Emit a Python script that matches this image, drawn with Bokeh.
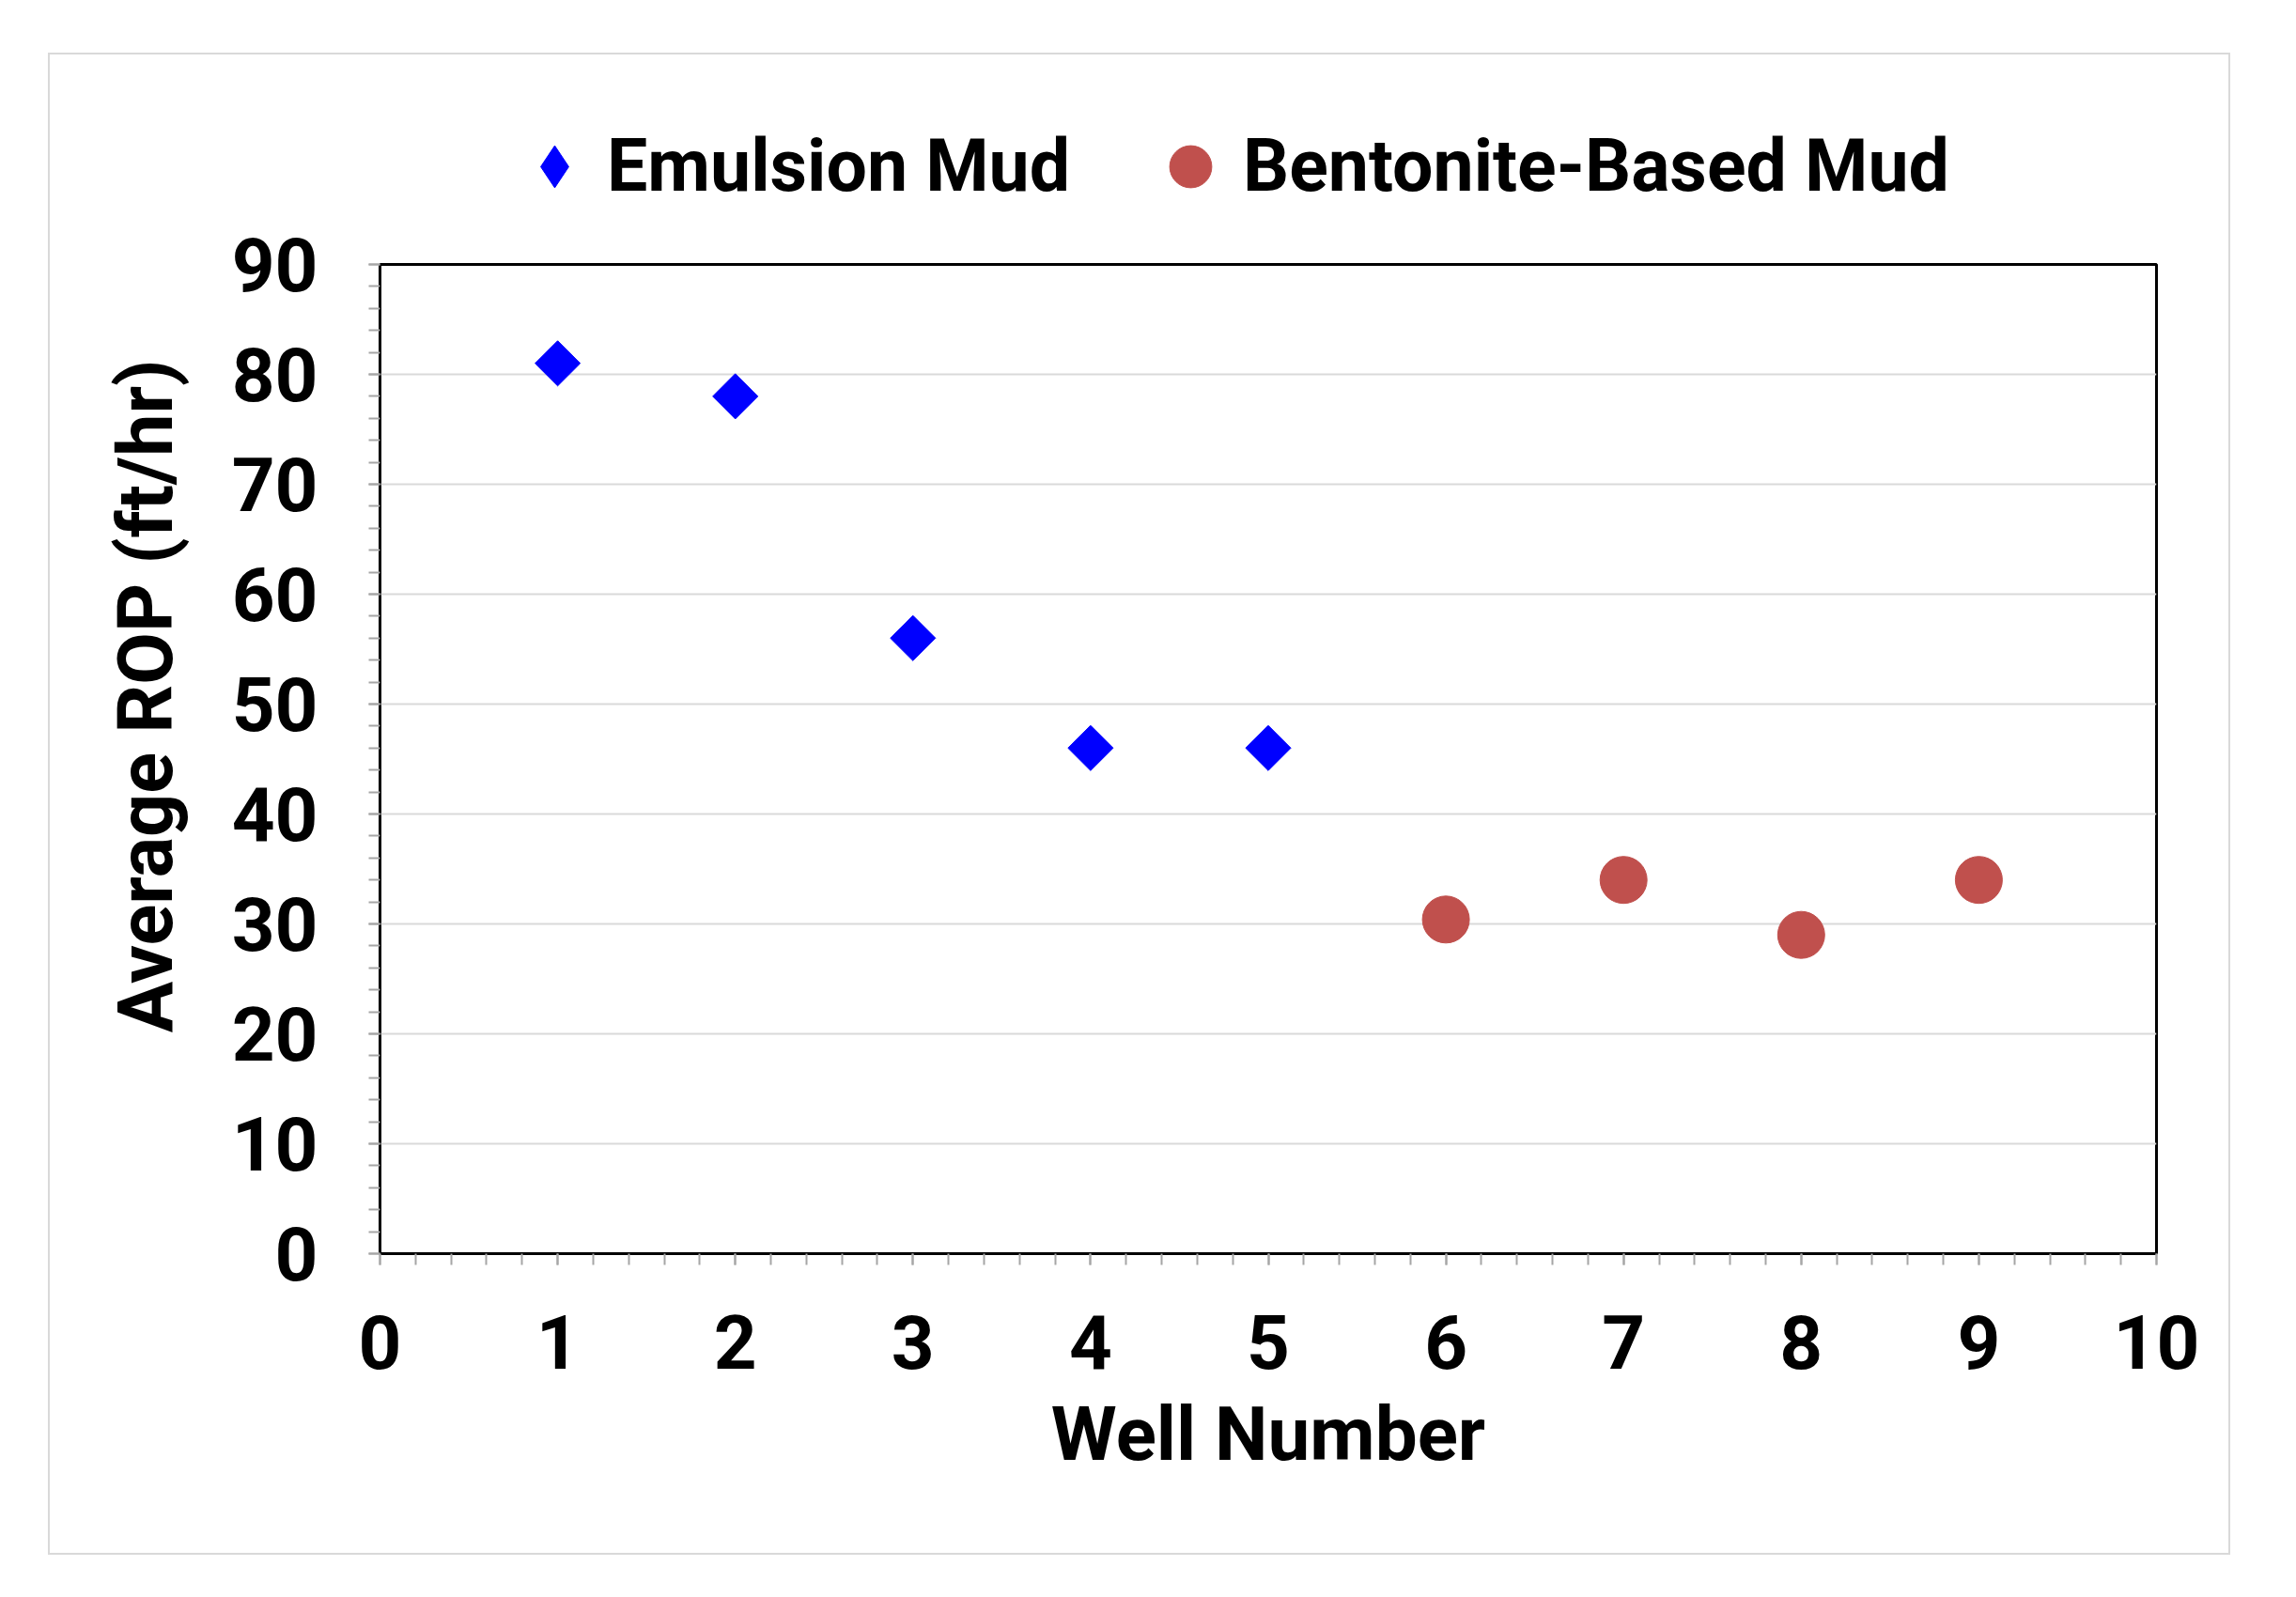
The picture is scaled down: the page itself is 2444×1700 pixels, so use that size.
import math
from bokeh.plotting import figure
from bokeh.layouts import column
from bokeh.models import (ColumnDataSource, Range1d, SingleIntervalTicker, Legend,
                          LegendItem, Title)
from bokeh.embed import file_html
from bokeh.resources import INLINE

# ---- data ----
emulsion_well = [1, 2, 3, 4, 5]
emulsion_rop = [81, 78, 56, 46, 46]
bentonite_well = [6, 7, 8, 9]
bentonite_rop = [30.4, 34, 29, 34]
series_names = ["Emulsion Mud", "Bentonite-Based Mud"]
x_title = "Well Number"
y_title = "Average ROP (ft/hr)"

FONT = "Roboto"
FS = "80px"
BLUE = "#0000FF"
RED = "#C0504D"
EDGE = "2px solid #d9d9d9"

src_e = ColumnDataSource(dict(x=emulsion_well, y=emulsion_rop))
src_b = ColumnDataSource(dict(x=bentonite_well, y=bentonite_rop))

# ---- legend strip (top of the chart) ----
lf = figure(width=2323, height=180, title=None,
            x_range=Range1d(-20, -10), y_range=Range1d(-20, -10),
            x_axis_location=None, y_axis_location=None,
            output_backend="svg", toolbar_location=None, min_border=0)
lf.grid.visible = False
lf.outline_line_color = None
lf.background_fill_color = "white"
lf.border_fill_color = "white"
lf.styles = {"border-top": EDGE, "border-left": EDGE, "border-right": EDGE}
lr_e = lf.scatter("x", "y", source=src_e, marker="diamond", size=44,
                  fill_color=BLUE, line_color=BLUE)
lr_b = lf.scatter("x", "y", source=src_b, marker="circle", size=50,
                  fill_color=RED, line_color=RED)
legend = Legend(items=[LegendItem(label=series_names[0], renderers=[lr_e]),
                       LegendItem(label=series_names[1], renderers=[lr_b])],
                orientation="horizontal", location=(130, 5),
                glyph_width=112, glyph_height=112, label_standoff=0, spacing=72,
                padding=0, margin=0, border_line_alpha=0, background_fill_alpha=0,
                label_text_font=FONT, label_text_font_size="77px",
                label_text_font_style="bold", label_text_color="black")
lf.add_layout(legend)

# ---- main chart ----
p = figure(width=2323, height=1419, title=None,
           x_range=Range1d(0, 10), y_range=Range1d(0, 90),
           output_backend="svg", toolbar_location=None,
           min_border_left=351, min_border_right=81,
           min_border_top=45, min_border_bottom=321)
p.styles = {"border-bottom": EDGE, "border-left": EDGE, "border-right": EDGE}
p.background_fill_color = "white"
p.border_fill_color = "white"
p.outline_line_color = "black"
p.outline_line_width = 3

p.xaxis.ticker = SingleIntervalTicker(interval=1, num_minor_ticks=5)
p.yaxis.ticker = SingleIntervalTicker(interval=10, num_minor_ticks=5)
for ax in (p.xaxis, p.yaxis):
    ax.major_label_text_font = FONT
    ax.major_label_text_font_size = FS
    ax.major_label_text_font_style = "bold"
    ax.major_label_text_color = "black"
    ax.axis_line_color = "black"
    ax.major_tick_line_color = "#a6a6a6"
    ax.minor_tick_line_color = "#a6a6a6"
    ax.major_tick_line_width = 2
    ax.minor_tick_line_width = 2
    ax.major_tick_out = 12
    ax.major_tick_in = 0
    ax.minor_tick_out = 12
    ax.minor_tick_in = 0
p.yaxis.axis_line_width = 2
p.xaxis.axis_line_width = 3
p.yaxis.major_label_standoff = 54
p.xaxis.major_label_standoff = 53

p.xaxis.axis_label = x_title
p.xaxis.axis_label_text_font = FONT
p.xaxis.axis_label_text_font_size = FS
p.xaxis.axis_label_text_font_style = "bold"
p.xaxis.axis_label_text_color = "black"
p.xaxis.axis_label_standoff = 20

p.xgrid.visible = False
p.ygrid.grid_line_color = "#d9d9d9"
p.ygrid.grid_line_width = 2

p.scatter("x", "y", source=src_e, marker="square", size=34, angle=math.pi / 4,
          fill_color=BLUE, line_color=BLUE)
p.scatter("x", "y", source=src_b, marker="circle", size=50,
          fill_color=RED, line_color=RED)

ytitle = Title(text=y_title, align="right", offset=101, standoff=81,
               text_font=FONT, text_font_size="81px", text_font_style="bold",
               text_color="black")
p.add_layout(ytitle, "left")

layout = column(lf, p, margin=(56, 0, 0, 51), spacing=0)
open("out.html", "w").write(file_html(layout, INLINE))
